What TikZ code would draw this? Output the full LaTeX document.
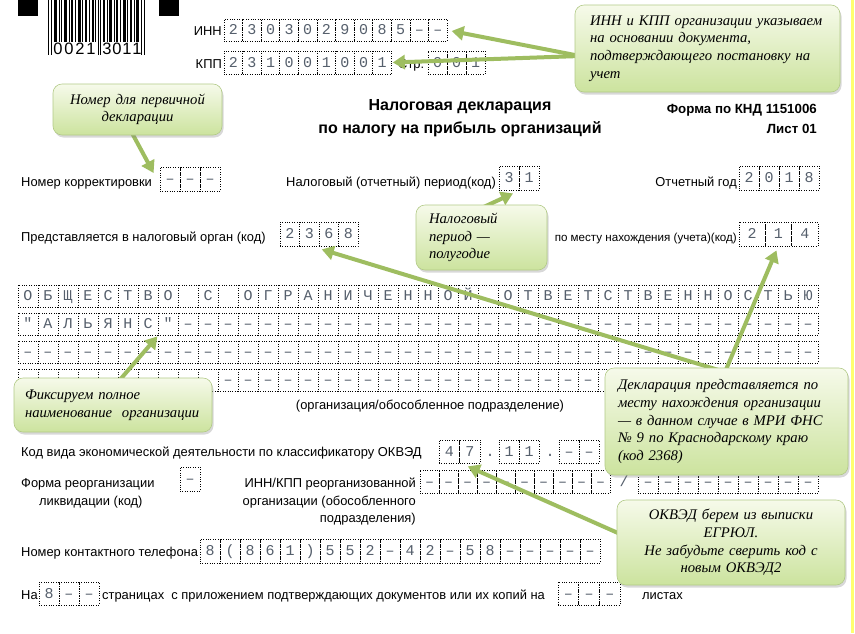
\documentclass[tikz,border=0pt]{standalone}
\usepackage{fontspec}
\setmainfont{Liberation Sans}
\newfontfamily\calfont{Liberation Serif}
\newfontfamily\cellfont{Liberation Mono}
\usetikzlibrary{arrows.meta,shadows,calc}
\definecolor{arrowgreen}{RGB}{158,189,96}
\definecolor{caltop}{RGB}{246,250,234}
\definecolor{calbot}{RGB}{204,227,158}
\definecolor{calborder}{RGB}{178,202,135}
\definecolor{celltext}{RGB}{85,95,108}
\definecolor{yellowline}{RGB}{255,255,110}
\newcommand\myLP{(}
\newcommand\myRP{)}
\newcommand\mycellrow[6]{%
  \foreach \c [count=\i] in {#6}{%
    \node[cellbox, minimum width=#4pt, minimum height=#5pt] (#1-\i) at ({#2+(\i-0.5)*#4},{#3+#5/2}) {\c};
  }}
% name, x0, y0, w, h, from, to, text
\newcommand\myrowrange[8]{%
  \foreach \i in {#6,...,#7}{%
    \node[cellbox, minimum width=#4pt, minimum height=#5pt] (#1-\i) at ({#2+(\i-0.5)*#4},{#3+#5/2}) {#8};
  }}
\tikzset{
  cellbox/.style={draw=black, line width=0.8pt, dash pattern=on 0.8pt off 1.6pt, inner sep=0pt,
    font=\cellfont\fontsize{15}{15}\selectfont, text=celltext, text height=9pt, text depth=0pt},
  formtxt/.style={font=\fontsize{12.9}{16}\selectfont, inner sep=0pt},
  titletxt/.style={font=\bfseries\fontsize{16}{19}\selectfont, inner sep=0pt},
  boldtxt/.style={font=\bfseries\fontsize{13.3}{16}\selectfont, inner sep=0pt},
  callout/.style={rounded corners=9pt, draw=calborder, line width=0.6pt, top color=caltop, bottom color=calbot,
    drop shadow={opacity=0.3, shadow xshift=1.5pt, shadow yshift=-2.5pt}, inner sep=0pt,
    font=\calfont\itshape\fontsize{14.67}{17.6}\selectfont},
  garrow/.style={draw=arrowgreen, line width=4pt, -{Triangle[length=12pt,width=14pt]}},
  bcdigit/.style={font=\fontsize{16.5}{17}\selectfont, inner sep=0pt}
}
\begin{document}
\begin{tikzpicture}[x=1pt,y=-1pt]
\fill[white] (0,0) rectangle (855,633);
\useasboundingbox (0,0) rectangle (855,633);
\fill[yellowline] (851,0) rectangle (853.5,633);

% barcode
\fill[black] (18,0) rectangle (38,16);
\fill[black] (159,0) rectangle (179,16);
\foreach \bx/\bw in {54/2.5,58.5/1.2,61/1.2,64/3,68.5/1.2,71/2.2,75/1.2,77.5/3,82/1.2,85/2.2,89/1.2,91.5/2.5,95/1.2,103/2.2,106.5/1.2,109/3,113.5/1.2,116/2.2,120/1.2,122.5/3,127/1.2,130/2.2,133.5/1.2,136/2.5}
  \fill[black] (\bx,0) rectangle (\bx+\bw,42);
\foreach \bx in {48,51,97.5,100,141,143.5}
  \fill[black] (\bx,0) rectangle (\bx+1.3,55);
\foreach \d/\dx [count=\k] in {0/58,0/69,2/80,1/91,3/107,0/117,1/127,1/137}
  \node[bcdigit] (bc\k) at (\dx,49) {\d};

% INN / KPP
\node[formtxt, anchor=base east] (tinn) at (222,35) {ИНН};
\mycellrow{inn}{224}{19}{18.6}{22}{2,3,0,3,0,2,9,0,8,5,–,–}
\node[formtxt, anchor=base east] (tkpp) at (222,68) {КПП};
\mycellrow{kpp}{224}{51}{18.6}{23}{2,3,1,0,0,1,0,0,1}
\node[formtxt, anchor=base west] (tstr) at (398,68) {Стр.};
\mycellrow{pg}{428}{51}{19}{23}{0,0,1}

% titles
\node[titletxt, anchor=base] (title1) at (460,110) {Налоговая декларация};
\node[titletxt, anchor=base] (title2) at (460,133) {по налогу на прибыль организаций};
\node[boldtxt, anchor=base east] (knd) at (817,113) {Форма по КНД 1151006};
\node[boldtxt, anchor=base east] (list) at (817,133) {Лист 01};

% row: correction, period, year
\node[formtxt, anchor=base west] (tcorr) at (21,186) {Номер корректировки};
\mycellrow{corr}{160}{167}{20}{24}{–,–,–}
\node[formtxt, anchor=base east] (tper) at (496,186) {Налоговый (отчетный) период(код)};
\mycellrow{per}{499}{166}{20}{24}{3,1}
\node[formtxt, anchor=base east] (tyear) at (737,186) {Отчетный год};
\mycellrow{year}{739}{166}{20}{24}{2,0,1,8}

% row: tax authority
\node[formtxt, anchor=base west] (torg) at (21,241) {Представляется в налоговый орган (код)};
\mycellrow{oc}{280}{222}{19.5}{24}{2,3,6,8}
\node[formtxt, anchor=base east, font=\fontsize{11.6}{16}\selectfont] (tplace) at (737,241) {по месту нахождения (учета)(код)};
\mycellrow{pl}{739}{222}{26.3}{24}{2,1,4}

% organisation name
\mycellrow{na}{18}{285}{20}{22}{О,Б,Щ,Е,С,Т,В,О,{},С,{},О,Г,Р,А,Н,И,Ч,Е,Н,Н,О,Й,{},О,Т,В,Е,Т,С,Т,В,Е,Н,Н,О,С,Т,Ь,Ю}
\mycellrow{nb}{18}{313}{20}{22}{",А,Л,Ь,Я,Н,С,"}
\myrowrange{nb}{18}{313}{20}{22}{9}{40}{–}
\myrowrange{nc}{18}{341}{20}{22}{1}{40}{–}
\myrowrange{nd}{18}{369}{20}{22}{1}{10}{}
\myrowrange{nd}{18}{369}{20}{22}{11}{29}{–}
\myrowrange{nd}{18}{369}{20}{22}{30}{40}{}
\node[formtxt, anchor=base] (torgsub) at (430,409) {(организация/обособленное подразделение)};

% OKVED
\node[formtxt, anchor=base west] (tokv) at (21,456) {Код вида экономической деятельности по классификатору ОКВЭД};
\mycellrow{okv}{439}{440}{20.5}{23}{4,7}
\node[cellbox, draw=none] (okvd1) at (490,452) {.};
\mycellrow{okw}{499}{440}{20}{23}{1,1}
\node[cellbox, draw=none] (okvd2) at (550,452) {.};
\mycellrow{okx}{559}{440}{20}{23}{–,–}

% reorganisation
\node[formtxt, anchor=base west] (treo1) at (21,487) {Форма реорганизации};
\node[formtxt, anchor=base west] (treo2) at (39,505) {ликвидации (код)};
\mycellrow{reo}{180}{467}{20}{24}{–}
\node[formtxt, anchor=base east] (tri1) at (416,487) {ИНН/КПП реорганизованной};
\node[formtxt, anchor=base east] (tri2) at (416,505) {организации (обособленного};
\node[formtxt, anchor=base east] (tri3) at (416,522) {подразделения)};
\myrowrange{ri}{420}{470}{19}{23}{1}{10}{–}
\node[cellbox, draw=none] (rislash) at (624,481.5) {/};
\myrowrange{rk}{638}{470}{20}{23}{1}{9}{–}

% phone
\node[formtxt, anchor=base west] (tphone) at (21,556) {Номер контактного телефона};
\mycellrow{ph}{200}{539}{20}{24}{8,\myLP,8,6,1,\myRP,5,5,2,–,4,2,–,5,8,–,–,–,–,–}

% pages
\node[formtxt, anchor=base west] (tna) at (21,599) {На};
\mycellrow{pp}{39}{582}{20}{23}{8,–,–}
\node[formtxt, anchor=base west] (tpages) at (102,599) {страницах\ \ с приложением подтверждающих документов или их копий на};
\mycellrow{cp}{558}{582}{20.7}{23}{–,–,–}
\node[formtxt, anchor=base west] (tlist) at (642,599) {листах};

% arrows
\coordinate (s-inn) at (580,56);
\coordinate (s-num) at (132,133);
\coordinate (s-per) at (481.5,208);
\coordinate (s-decl) at (725,372);
\coordinate (s-fix) at (118,382);
\coordinate (s-okv) at (627,537);
\draw[garrow] (s-inn) -- ($(inn-12.east)+(4,1)$);
\draw[garrow] (s-inn) -- ($(kpp-9.east)+(1,0)$);
\draw[garrow] (s-num) -- ($(corr-1.west)+(-6,-6)$);
\draw[garrow] (s-per) -- ($(per-1.south)+(4,3)$);
\draw[garrow] (s-decl) -- ($(oc-3.south)+(-7,3)$);
\draw[garrow] (s-decl) -- ($(pl-2.south)+(-2,4)$);
\draw[garrow] (s-fix) -- ($(nb-7.south east)+(-1,1)$);
\draw[garrow] (s-okv) -- ($(okv-2.south)+(-2,3)$);

% callouts
\node[callout, minimum width=265pt, minimum height=87pt, text width=235pt, align=left] (cinn) at (707.5,48.5)
  {ИНН и КПП организации указываем\\на основании документа,\\подтверждающего постановку на\\учет};
\node[callout, minimum width=169pt, minimum height=51pt, text width=160pt, align=center] (cnum) at (137.5,109.5)
  {Номер для первичной\\декларации};
\node[callout, minimum width=131pt, minimum height=65pt, text width=105pt, align=left] (cper) at (481.5,237.5)
  {Налоговый\\период —\\полугодие};
\node[callout, minimum width=198pt, minimum height=54pt, text width=176pt, align=left] (cfix) at (113,405)
  {Фиксируем полное\\наименование\ \ организации};
\node[callout, minimum width=243pt, minimum height=107pt, text width=217pt, align=left] (cdecl) at (726.5,421.5)
  {Декларация представляется по\\месту нахождения организации\\— в данном случае в МРИ ФНС\\№ 9 по Краснодарскому краю\\(код 2368)};
\node[callout, minimum width=228pt, minimum height=85pt, text width=215pt, align=center] (cokv) at (731,542.5)
  {ОКВЭД берем из выписки\\ЕГРЮЛ.\\Не забудьте сверить код с\\новым ОКВЭД2};
\end{tikzpicture}
\end{document}
